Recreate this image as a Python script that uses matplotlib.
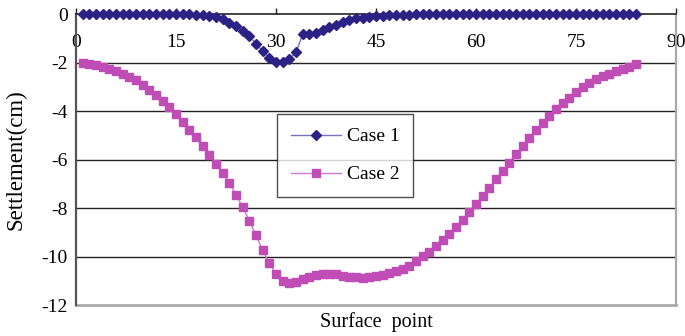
import matplotlib
matplotlib.use('Agg')
import matplotlib.pyplot as plt

plt.rcParams['font.family'] = ['Liberation Serif', 'DejaVu Serif']

# surface points along the section
points = list(range(1, 85))

# settlement (cm) for each case
case1 = [0, 0, 0, 0, 0, 0, 0, 0, 0, 0, 0, 0, 0, 0, 0, 0,
         -0.01, -0.02, -0.03, -0.06, -0.12, -0.22, -0.36, -0.50, -0.69, -0.92,
         -1.22, -1.53, -1.80, -1.99, -1.99, -1.85, -1.57, -0.83, -0.83, -0.76,
         -0.64, -0.53, -0.43, -0.33, -0.25, -0.18, -0.14, -0.10, -0.07, -0.06,
         -0.04, -0.03, -0.02, -0.02, -0.01, -0.01, -0.01, -0.01,
         0, 0, 0, 0, 0, 0, 0, 0, 0, 0, 0, 0, 0, 0, 0, 0, 0, 0, 0, 0,
         0, 0, 0, 0, 0, 0, 0, 0, 0, 0]
case2 = [-2.03, -2.05, -2.10, -2.17, -2.26, -2.35, -2.46, -2.58, -2.73, -2.93,
         -3.13, -3.35, -3.59, -3.85, -4.12, -4.44, -4.76, -5.08, -5.43, -5.80,
         -6.17, -6.57, -6.98, -7.45, -7.96, -8.52, -9.13, -9.74, -10.28, -10.72,
         -11.00, -11.08, -11.04, -10.94, -10.83, -10.75, -10.71, -10.71, -10.73, -10.79,
         -10.83, -10.86, -10.87, -10.86, -10.82, -10.76, -10.69, -10.61, -10.50, -10.38,
         -10.20, -9.99, -9.80, -9.55, -9.31, -9.05, -8.77, -8.48, -8.15, -7.84,
         -7.49, -7.16, -6.82, -6.47, -6.13, -5.77, -5.44, -5.10, -4.78, -4.48,
         -4.19, -3.92, -3.66, -3.44, -3.20, -3.00, -2.83, -2.68, -2.56, -2.45,
         -2.35, -2.27, -2.17, -2.06]

xticks = [0, 15, 30, 45, 60, 75, 90]
yticks = [0, -2, -4, -6, -8, -10, -12]

fig = plt.figure(figsize=(6.85, 3.36), dpi=100)
ax = fig.add_axes([0.111, 0.092, 0.876, 0.866])

ax.plot(points, case1, color='#7b70bd', lw=1.0, marker='D', markersize=4.8,
        markerfacecolor='#2c2185', markeredgecolor='#2c2185', label='Case 1',
        clip_on=False, zorder=4)
ax.plot(points, case2, color='#d676cc', lw=1.0, marker='s', markersize=5.5,
        markerfacecolor='#c04db6', markeredgecolor='#c04db6', label='Case 2',
        clip_on=False, zorder=3)

ax.set_xlim(0, 90)
ax.set_ylim(-12, 0)
ax.set_xticks(xticks)
ax.set_yticks(yticks)
ax.set_yticklabels([str(v) for v in yticks])

# x axis sits on the zero line, ticks pointing up, labels below it
ax.spines['bottom'].set_position(('data', 0))
ax.spines['bottom'].set_color('#222222')
ax.spines['bottom'].set_linewidth(1.2)
ax.spines['top'].set_visible(False)
ax.spines['left'].set_color('#555555')
ax.spines['left'].set_linewidth(1.6)
ax.spines['right'].set_color('#aaaaaa')
ax.spines['right'].set_linewidth(1.6)
ax.tick_params(axis='x', direction='in', length=4.5, width=1, color='#222222',
               labelsize=14, pad=14)
ax.tick_params(axis='y', length=0, labelsize=14, pad=6)

for v in yticks[1:-1]:
    ax.axhline(v, color='#222222', lw=1.0, zorder=1)
ax.axhline(-12, color='#aaaaaa', lw=2.0, zorder=1, clip_on=False)

ax.set_xlabel('Surface  point', fontsize=14.5, va='center')
ax.xaxis.set_label_coords(0.5, -0.058)
ax.set_ylabel('Settlement(cm)', fontsize=16.5, va='center')
ax.yaxis.set_label_coords(-0.1, 0.5)

leg = ax.legend(loc='upper left', bbox_to_anchor=(0.335, 0.656), fontsize=14,
                frameon=True, fancybox=False, edgecolor='#222222',
                handlelength=2.6, handletextpad=0.3, borderpad=0.7,
                labelspacing=1.05, borderaxespad=0)
leg.get_frame().set_linewidth(1.0)

fig.savefig('out.png', dpi=100)
